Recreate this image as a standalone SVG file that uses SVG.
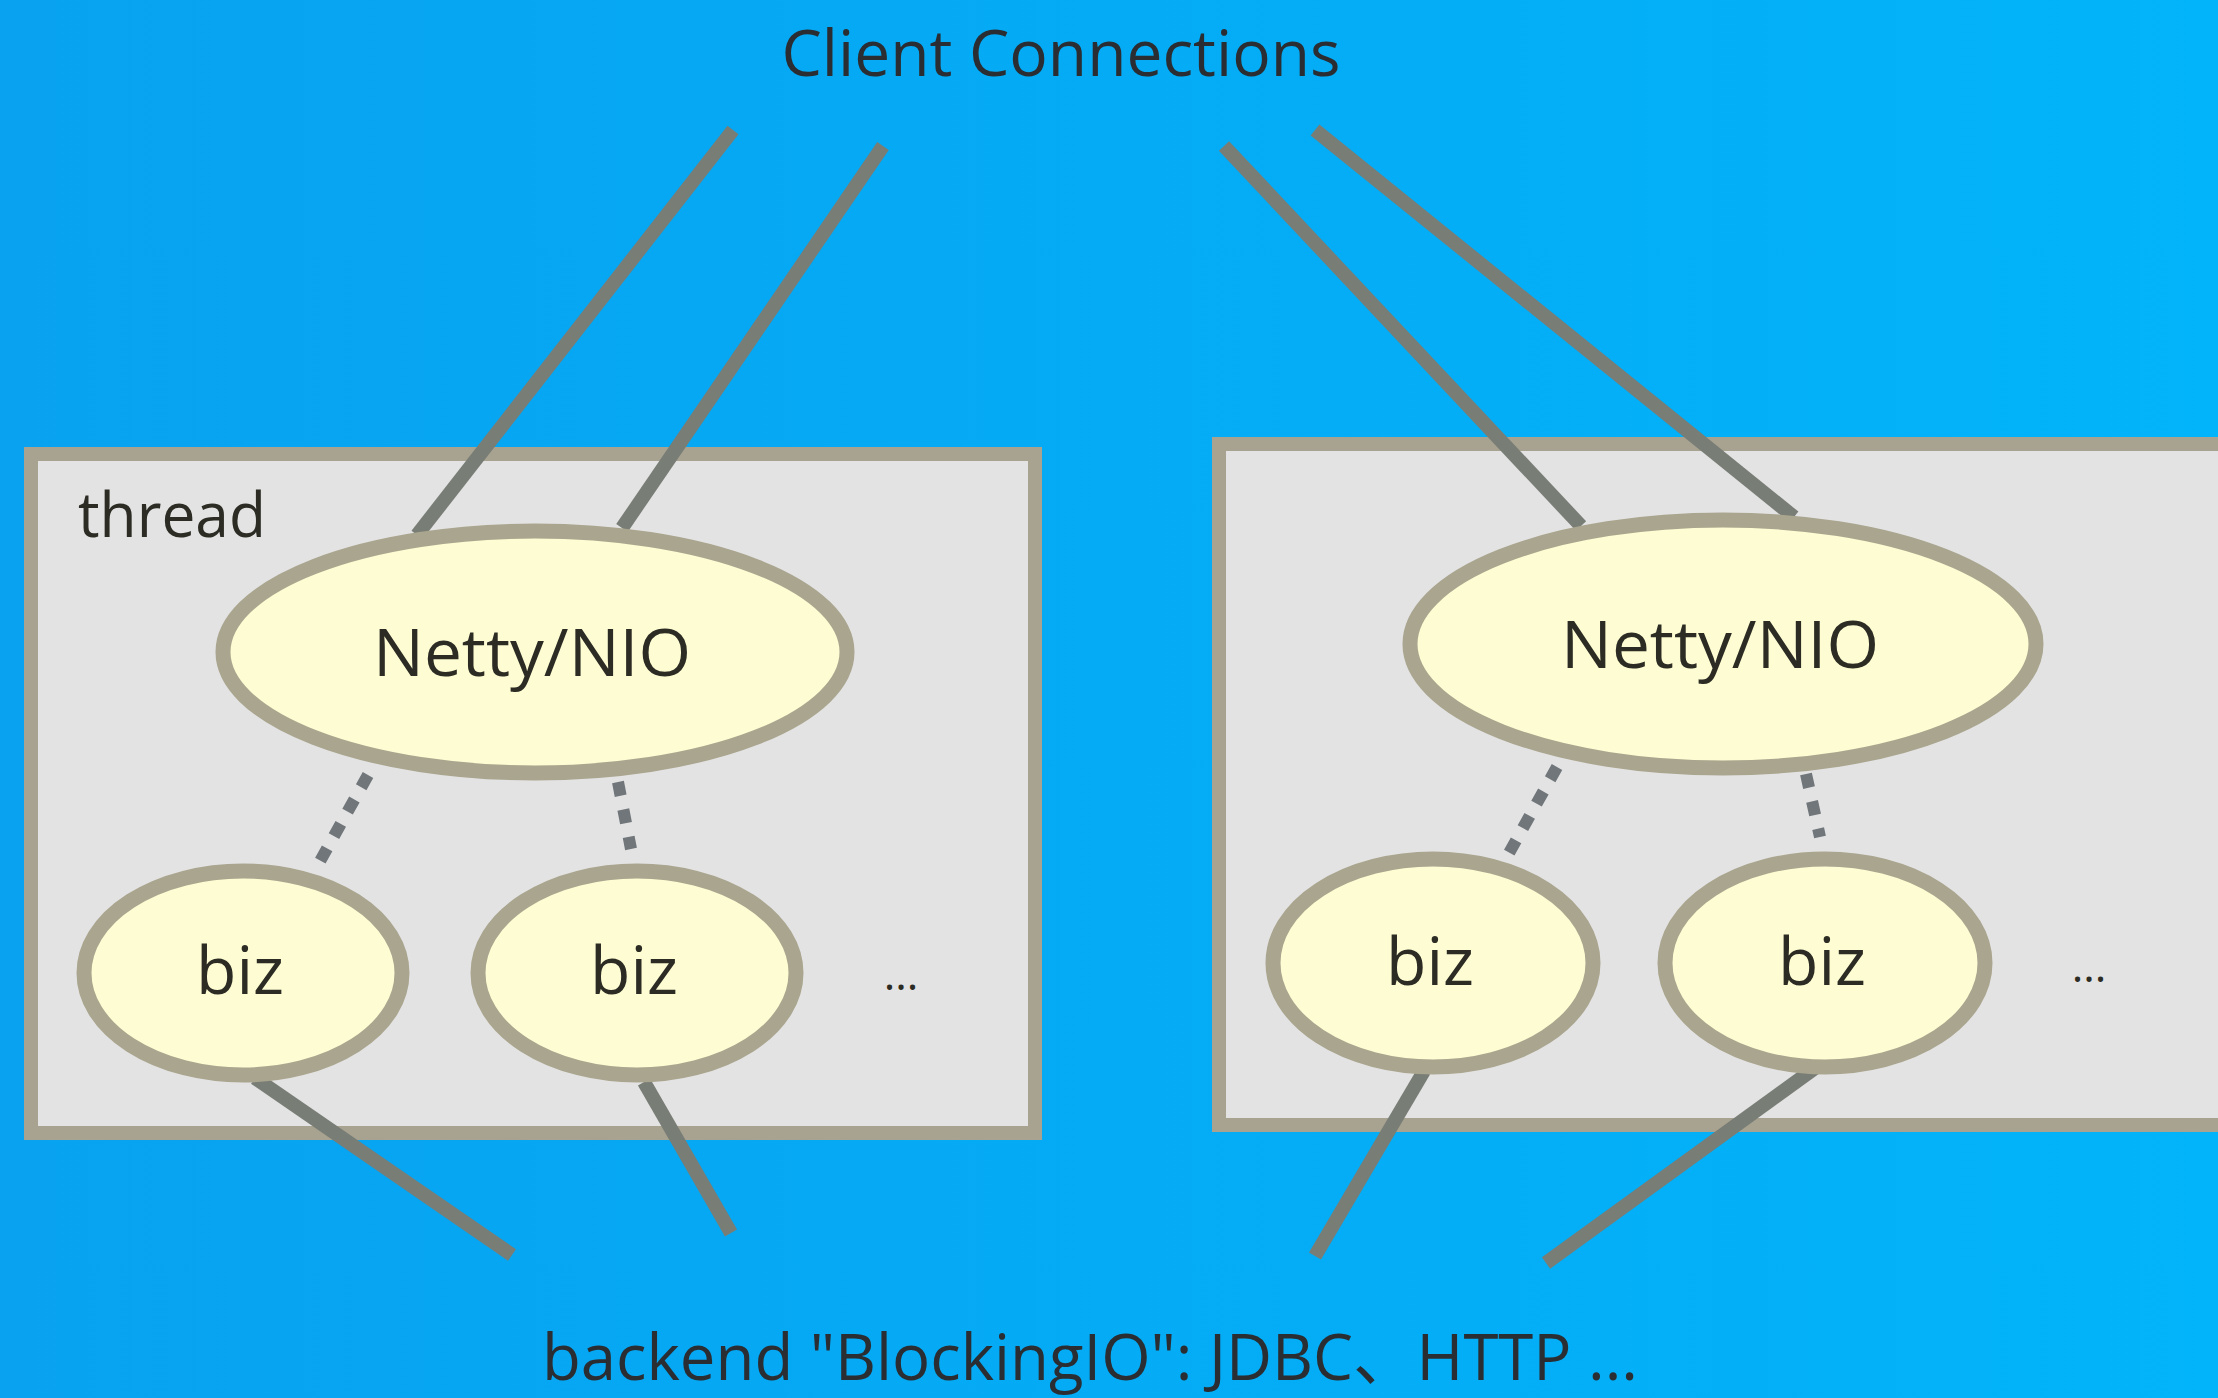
<svg xmlns="http://www.w3.org/2000/svg" width="2218" height="1398" viewBox="0 0 2218 1398">
<defs>
<linearGradient id="bg" x1="0" y1="0" x2="1" y2="0">
<stop offset="0" stop-color="#08a2f0"/>
<stop offset="1" stop-color="#02b4fa"/>
</linearGradient>
<style>
.box{fill:#e3e3e3;stroke:#a8a290;stroke-width:14}
.node{fill:#fdfcd2;stroke:#aaa58e;stroke-width:15}
.conn{stroke:#787d76;stroke-width:14;fill:none}
.dot{stroke:#70767a;stroke-width:12;fill:none;stroke-dasharray:14 14}
.t{font-family:"Open Sans","Noto Sans CJK SC",sans-serif;fill:#2c2c24}
.lbl{font-size:66px;text-anchor:middle}
.ttl{font-size:64px;fill:#2a2e33}
</style>
</defs>
<rect width="2218" height="1398" fill="url(#bg)"/>
<text class="t ttl" x="1061" y="76" text-anchor="middle" textLength="559" lengthAdjust="spacingAndGlyphs">Client Connections</text>
<g id="thread-left">
<rect class="box" x="31" y="454" width="1004" height="679"/>
<text class="t" x="78" y="537" font-size="62" fill="#333" textLength="188" lengthAdjust="spacingAndGlyphs">thread</text>
<text class="t" x="901" y="990" font-size="44" fill="#777" text-anchor="middle">...</text>
</g>
<g id="thread-right">
<rect class="box" x="1219" y="444" width="1020" height="681"/>
<text class="t" x="2089" y="982" font-size="44" fill="#999" text-anchor="middle">...</text>
</g>
<g id="connectors">
<line class="conn" x1="733" y1="130" x2="417" y2="535"/>
<line class="conn" x1="883" y1="146" x2="622" y2="528"/>
<line class="conn" x1="1224" y1="146" x2="1581" y2="526"/>
<line class="conn" x1="1315" y1="130" x2="1794" y2="517"/>
<line class="conn" x1="255" y1="1078" x2="512" y2="1255"/>
<line class="conn" x1="644" y1="1082" x2="731" y2="1233"/>
<line class="conn" x1="1424" y1="1071" x2="1315" y2="1256"/>
<line class="conn" x1="1815" y1="1068" x2="1546" y2="1263"/>
<line class="dot" x1="368" y1="775" x2="314" y2="872"/>
<line class="dot" x1="618" y1="782" x2="631" y2="849"/>
<line class="dot" x1="1557" y1="767" x2="1504" y2="862"/>
<line class="dot" x1="1806" y1="774" x2="1820" y2="837"/>
</g>
<g id="netty-left">
<ellipse class="node" cx="535" cy="652" rx="312" ry="121"/>
<text class="t lbl" x="532" y="676" textLength="318" lengthAdjust="spacingAndGlyphs">Netty/NIO</text>
</g>
<g id="netty-right">
<ellipse class="node" cx="1723" cy="644" rx="313" ry="124"/>
<text class="t lbl" x="1720" y="668" textLength="318" lengthAdjust="spacingAndGlyphs">Netty/NIO</text>
</g>
<g id="biz-left-1">
<ellipse class="node" cx="243" cy="973" rx="159" ry="102"/>
<text class="t lbl" x="240" y="994">biz</text>
</g>
<g id="biz-left-2">
<ellipse class="node" cx="637" cy="973" rx="159" ry="102"/>
<text class="t lbl" x="634" y="994">biz</text>
</g>
<g id="biz-right-1">
<ellipse class="node" cx="1433" cy="963" rx="160" ry="104"/>
<text class="t lbl" x="1430" y="985">biz</text>
</g>
<g id="biz-right-2">
<ellipse class="node" cx="1825" cy="963" rx="160" ry="104"/>
<text class="t lbl" x="1822" y="985">biz</text>
</g>
<text class="t ttl" x="542" y="1380" textLength="1096" lengthAdjust="spacingAndGlyphs">backend "BlockingIO": JDBC、HTTP ...</text>
</svg>
